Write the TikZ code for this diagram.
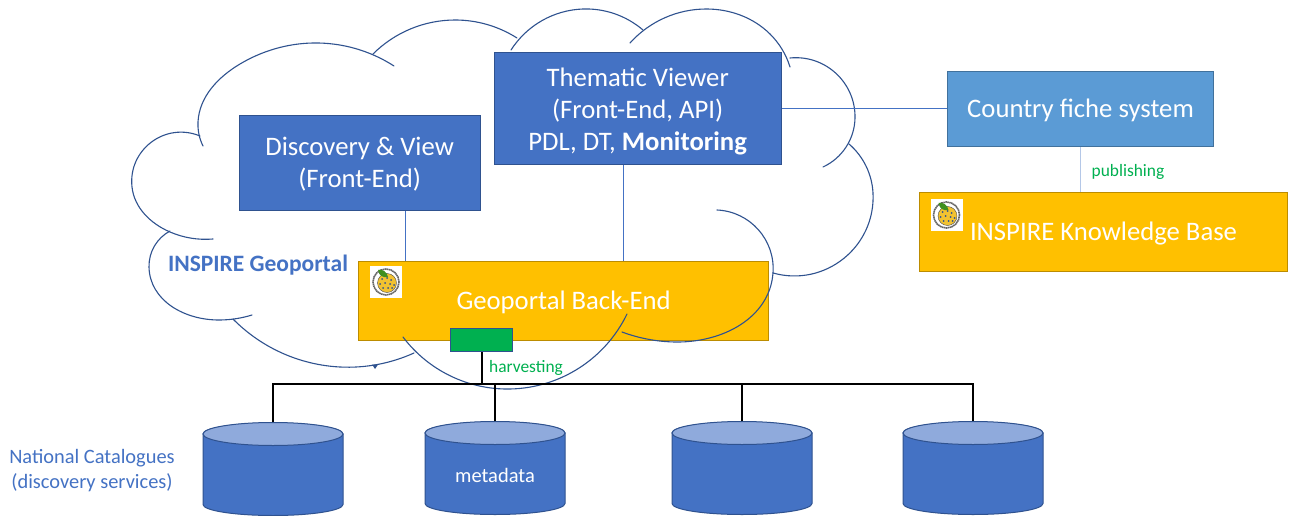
\documentclass[tikz,border=0pt]{standalone}
\usepackage{fontspec}
\setmainfont{Carlito}
\usetikzlibrary{hobby}
\definecolor{bluefill}{HTML}{4472C4}
\definecolor{blueedge}{HTML}{2F528F}
\definecolor{yellowfill}{HTML}{FFC000}
\definecolor{yellowedge}{HTML}{BC8C00}
\definecolor{skyfill}{HTML}{5B9BD5}
\definecolor{skyedge}{HTML}{41719C}
\definecolor{greenfill}{HTML}{00B050}
\definecolor{drumtop}{HTML}{8FAADC}
\definecolor{linkpale}{HTML}{B4C7E7}
\definecolor{logoyellow}{HTML}{F2C230}
\definecolor{logoleaf}{HTML}{3F8F1F}
\tikzset{
  x=1pt,y=-1pt,
  boxbase/.style={draw,line width=1pt,inner sep=0pt,align=center,text=white,anchor=north west,font=\fontsize{26.7}{32}\selectfont},
  bluebox/.style={boxbase,fill=bluefill,draw=blueedge},
  yellowbox/.style={boxbase,fill=yellowfill,draw=yellowedge},
  skybox/.style={boxbase,fill=skyfill,draw=skyedge},
  greenbox/.style={draw=blueedge,line width=1.2pt,fill=greenfill,inner sep=0pt,anchor=north west},
  cloudarc/.style={draw=blueedge,line width=1.1pt,line cap=round,use Hobby shortcut},
  link/.style={draw=bluefill,line width=.7pt},
  palelink/.style={draw=linkpale,line width=1.2pt},
  bus/.style={draw=black,line width=2pt},
  greenlabel/.style={text=greenfill,inner sep=0pt,font=\fontsize{17.4}{21}\selectfont},
  bluelabel/.style={text=bluefill,inner sep=0pt,align=center},
  drumframe/.style={inner sep=0pt,minimum width=140pt,minimum height=93pt},
}
\newcommand{\boxat}[7]{\node[#1,minimum width=#6pt,minimum height=#7pt] (#2) at (#3,#4) {#5};}
\newcommand{\lowered}[2]{\raisebox{-#1pt}[\height][\depth]{\begin{tabular}{@{}c@{}}#2\end{tabular}}}
\newcommand{\drum}[3]{%
  \path[draw=blueedge,line width=1pt,fill=bluefill]
    (#2-70,#3-35) -- (#2-70,#3+35.5) arc[start angle=180,end angle=360,x radius=70pt,y radius=11pt] -- (#2+70,#3-35)
    arc[start angle=0,end angle=180,x radius=70pt,y radius=11pt];
  \path[draw=blueedge,line width=1pt,fill=drumtop] (#2,#3-35) ellipse[x radius=70pt,y radius=11.5pt];
  \node[drumframe] (#1) at (#2,#3) {};
}
\newcommand{\inspirelogo}[2]{%
  \begin{scope}[shift={(#1,#2)}]
    \fill[white] (-16,-16) rectangle (16,16);
    \draw[black!60,line width=1.6pt,dash pattern=on 1.5pt off .5pt] (0,0) circle[radius=13pt];
    \draw[black!70,fill=logoyellow,line width=.4pt] (1,1) circle[radius=9.5pt];
    \foreach \a/\b in {-4/-3,1/-4,5/-2,-6/2,-1/1,4/2,8/3,-3/6,2/6,6/6}
      \fill[blueedge] (\a,\b) circle[radius=1pt];
    \fill[logoleaf] (-8,-12) .. controls (-3,-13) and (1,-10) .. (2,-5) .. controls (-3,-4) and (-7,-6) .. cycle;
  \end{scope}}
\begin{document}
\begin{tikzpicture}
\useasboundingbox (0,0) rectangle (1295,516);
\fill[white] (0,0) rectangle (1295,516);

% yellow box lies under the cloud outline
\boxat{yellowbox}{back}{358.2}{260.5}{\lowered{3}{Geoportal Back-End}}{409.8}{79}
\inspirelogo{386}{282}

% cloud outline
\draw[cloudarc] (203,146) .. (198,122) .. (240,64) .. (313,43) .. (394,66);
\draw[cloudarc] (373,54) .. (455,20) .. (517,38);
\draw[cloudarc] (511,50) .. (583,9) .. (643,30);
\draw[cloudarc] (630,43) .. (707,9) .. (770,34) .. (790,67);
\draw[cloudarc] (790,58) .. (855,118) .. (823,167);
\draw[cloudarc] (849,144) .. (873,193) .. (773,273);
\draw[cloudarc] (717,210) .. (773,273) .. (675,342) .. (622,332);
\draw[cloudarc] (627,314) .. (510,389) .. (403,337);
\draw[cloudarc] (414,353) .. (340,367) .. (233,319);
\draw[cloudarc] (252,315) .. (220,320) .. (149,267) .. (170,231);
\draw[cloudarc] (213,239) .. (170,232) .. (132,187) .. (200,136);
\fill[blueedge] (372,364.5) -- (378,364.5) -- (375,369) -- cycle;

% boxes
\boxat{bluebox}{disc}{238.8}{114.8}{\lowered{2}{Discovery \& View\\(Front-End)}}{240.7}{95}
\boxat{bluebox}{them}{493.8}{52.5}{\lowered{3}{Thematic Viewer\\(Front-End, API)\\PDL, DT, \textbf{Monitoring}}}{286.7}{111.5}
\boxat{skybox}{fiche}{947}{71}{\lowered{2}{Country fiche system}}{266}{75}
\boxat{yellowbox}{know}{919}{192}{\lowered{2.5}{INSPIRE Knowledge Base}}{368}{78.5}
\inspirelogo{946.5}{215}
\boxat{greenbox}{harv}{450}{328}{}{62}{23}

% thin links
\draw[link] ([xshift=45.5pt]disc.south) -- ([xshift=45.5pt]disc.south |- back.north);
\draw[link] ([xshift=-14.5pt]them.south) -- ([xshift=-14.5pt]them.south |- back.north);
\draw[link] (them.east) -- (them.east -| fiche.west);
\draw[palelink] (fiche.south) -- (fiche.south |- know.north);

% drums
\drum{d1}{273}{469}
\drum{d2}{495}{468}
\drum{d3}{742}{468}
\drum{d4}{973}{468}
\node[text=white,inner sep=0pt,font=\fontsize{20.5}{24}\selectfont] (meta) at (495,475) {metadata};

% harvesting bus
\coordinate (busy) at (0,384);
\draw[bus] (harv.south) -- (harv.south |- busy);
\draw[bus] (d1.north) -- (d1.north |- busy) -- (d4.north |- busy) -- (d4.north);
\draw[bus] (d2.north) -- (d2.north |- busy);
\draw[bus] (d3.north) -- (d3.north |- busy);

% labels
\node[greenlabel] (harvlab) at (526,368) {harvesting};
\node[greenlabel] (publab) at (1128,172) {publishing};
\node[bluelabel,font=\fontsize{23.5}{28}\selectfont\bfseries] (geolab) at (258,265) {INSPIRE Geoportal};
\node[bluelabel,font=\fontsize{20.4}{25}\selectfont] (natlab) at (92,470.5) {National Catalogues\\(discovery services)};
\end{tikzpicture}
\end{document}
